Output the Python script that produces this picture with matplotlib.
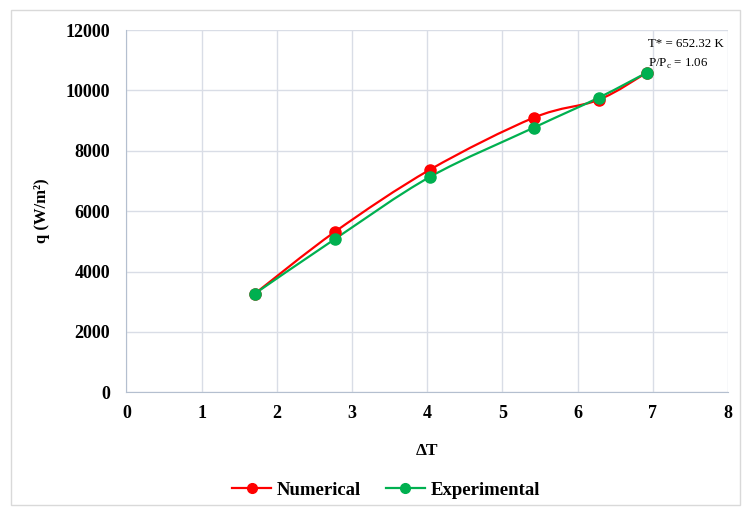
import matplotlib
matplotlib.use('Agg')
import matplotlib.pyplot as plt
from matplotlib.path import Path
from matplotlib.patches import PathPatch, Rectangle
from matplotlib.lines import Line2D

plt.rcParams['font.family'] = ['Liberation Serif', 'DejaVu Serif']
plt.rcParams['mathtext.fontset'] = 'custom'
plt.rcParams['mathtext.rm'] = 'Liberation Serif'

# Heat flux vs temperature difference
dT = [1.71, 2.775, 4.04, 5.42, 6.28, 6.92]
q_num = [3270, 5320, 7380, 9100, 9690, 10590]
q_exp = [3270, 5080, 7140, 8770, 9760, 10590]

xticks = [0, 1, 2, 3, 4, 5, 6, 7, 8]
yticks = [0, 2000, 4000, 6000, 8000, 10000, 12000]


def smooth_path(xs, ys):
    # cubic Bezier segments with Catmull-Rom style control points
    pts = list(zip(xs, ys))
    n = len(pts)
    verts = [pts[0]]
    codes = [Path.MOVETO]
    for i in range(n - 1):
        p0 = pts[i - 1] if i > 0 else pts[i]
        p1 = pts[i]
        p2 = pts[i + 1]
        p3 = pts[i + 2] if i + 2 < n else pts[i + 1]
        c1 = (p1[0] + (p2[0] - p0[0]) / 6, p1[1] + (p2[1] - p0[1]) / 6)
        c2 = (p2[0] - (p3[0] - p1[0]) / 6, p2[1] - (p3[1] - p1[1]) / 6)
        verts += [c1, c2, p2]
        codes += [Path.CURVE4] * 3
    return Path(verts, codes)


fig = plt.figure(figsize=(7.44, 5.09), dpi=100)
ax = fig.add_axes([0.1698, 0.2293, 0.8087, 0.7116])

# outer frame
fig.patches.append(Rectangle((11 / 744, 4 / 509), 729 / 744, 495 / 509, transform=fig.transFigure,
                             fill=False, edgecolor='#d9d9d9', linewidth=1))

red = '#ff0000'
green = '#00b050'
for ys, c in [(q_num, red), (q_exp, green)]:
    ax.add_patch(PathPatch(smooth_path(dT, ys), fill=False, edgecolor=c, linewidth=1.6, zorder=3))
    ax.plot(dT, ys, linestyle='none', marker='o', markersize=8, color=c, zorder=4)

ax.set_xlim(0, 8)
ax.set_ylim(0, 12000)
ax.set_xticks(xticks)
ax.set_yticks(yticks)
ax.grid(True, color='#d9dde6', linewidth=1)
ax.set_axisbelow(True)
for s in ['top', 'right']:
    ax.spines[s].set_visible(False)
for s in ['left', 'bottom']:
    ax.spines[s].set_color('#b4bfcf')
ax.tick_params(length=0, labelsize=13)
ax.tick_params(axis='y', pad=11.5)
ax.tick_params(axis='x', pad=9)
for t in ax.get_xticklabels() + ax.get_yticklabels():
    t.set_fontweight('bold')

ax.set_xlabel('ΔT', fontsize=12.5, fontweight='bold', labelpad=15)
ax.set_ylabel('q (W/m²)', fontsize=12, fontweight='bold', labelpad=11)

ax.text(6.94, 11540, 'T* = 652.32 K', fontsize=9.3, va='center', ha='left')
ax.text(6.94, 10880, r'P/P$_\mathregular{c}$ = 1.06', fontsize=9.3, va='center', ha='left')

handles = [Line2D([], [], color=red, marker='o', markersize=7, linewidth=1.6),
           Line2D([], [], color=green, marker='o', markersize=7, linewidth=1.6)]
fig.legend(handles, ['Numerical', 'Experimental'], loc='center', bbox_to_anchor=(386 / 744, 1 - 490 / 509),
           ncol=2, frameon=False, prop={'weight': 'bold', 'size': 13.5}, handlelength=2.1,
           columnspacing=1.3, handletextpad=0.3)

fig.savefig('out.png', dpi=100)
